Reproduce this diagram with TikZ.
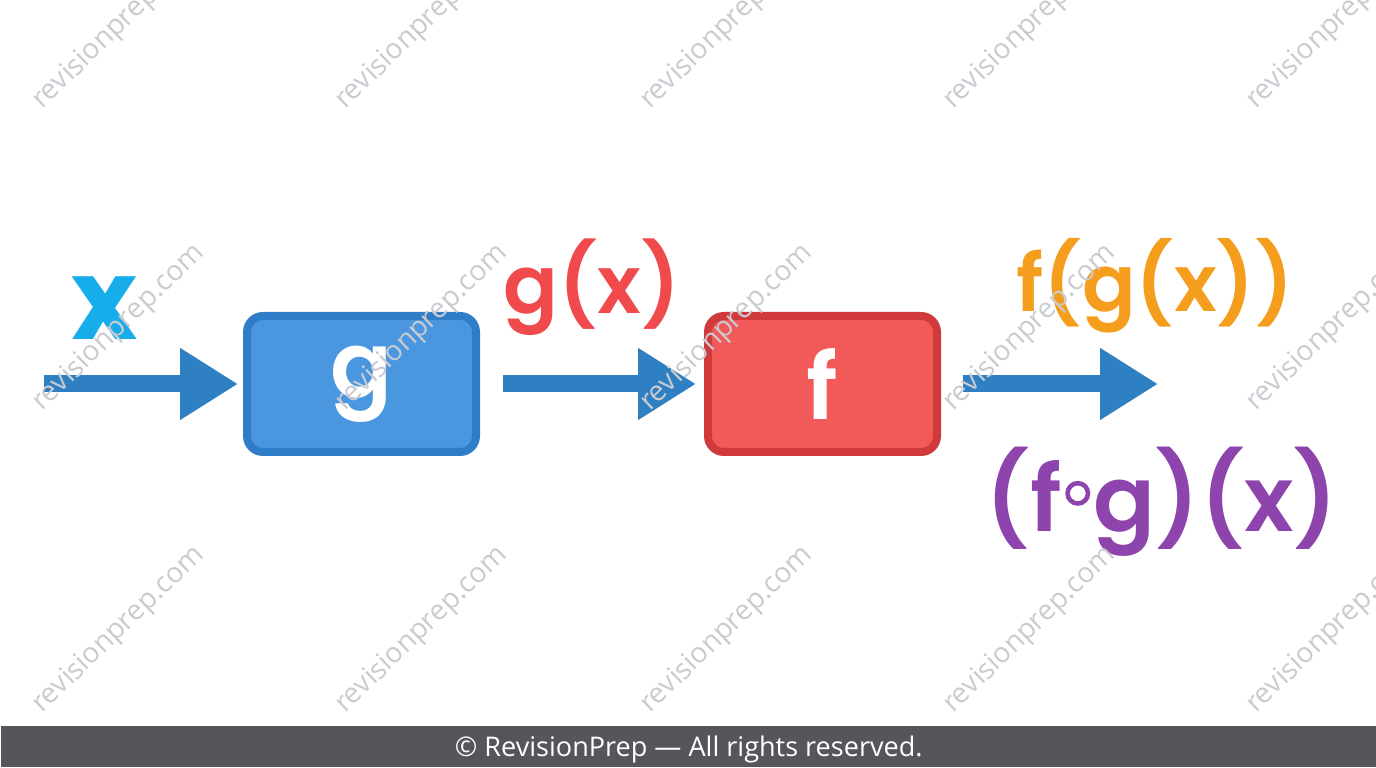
\documentclass[tikz,border=0pt]{standalone}
\usepackage{fontspec}
\usetikzlibrary{arrows.meta}
\newfontfamily\popfont{Poppins}[BoldFont={* SemiBold}]
\newfontfamily\popheavy{Poppins}
\newfontfamily\opensans{Open Sans}
\definecolor{flowblue}{HTML}{2F7FC3}
\definecolor{gedge}{HTML}{2F7DC6}
\definecolor{gfill}{HTML}{4A97E0}
\definecolor{fedge}{HTML}{D13A3C}
\definecolor{ffill}{HTML}{F25A5A}
\definecolor{xcyan}{HTML}{17ADEA}
\definecolor{gxred}{HTML}{F04A4D}
\definecolor{fgxorange}{HTML}{F59D1C}
\definecolor{fogpurple}{HTML}{8E44AD}
\definecolor{wmgray}{HTML}{CACBD1}
\definecolor{footgray}{HTML}{55565B}
\pgfdeclarelayer{edgelayer}
\pgfdeclarelayer{nodelayer}
\pgfsetlayers{edgelayer,nodelayer,main}
\tikzstyle{fnbox}=[rectangle,rounded corners=0.16cm,minimum width=2.29cm,minimum height=1.36cm,line width=0.08cm,text=white,font=\popfont\bfseries\fontsize{26}{26}\selectfont]
\tikzstyle{flow}=[-{Triangle[length=0.58cm,width=0.68cm]},line width=0.17cm,draw=flowblue]
\tikzstyle{formula}=[anchor=base,inner sep=0pt]
\tikzstyle{watermark}=[text=wmgray,rotate=44,font=\opensans\fontsize{8}{8}\selectfont]
\newcommand{\compring}{\hspace{1pt}\tikz[baseline=-11pt]\draw[line width=1.3pt,fogpurple] (0,0) circle (2.9pt);\hspace{1pt}}

\begin{document}
\begin{tikzpicture}
	\useasboundingbox (0,0) rectangle (13.76,7.68);
	\begin{pgfonlayer}{nodelayer}
		\node [style=fnbox, draw=gedge, fill=gfill] (0) at (3.615, 3.84) {g};
		\node [style=fnbox, draw=fedge, fill=ffill] (1) at (8.225, 3.84) {f};
		\coordinate (in) at (0.44, 3.84);
		\coordinate (out) at (11.58, 3.84);
		\node [style=formula, text=xcyan, font={\popheavy\bfseries\fontsize{32}{32}\selectfont}] (2) at (1.05, 4.28) {x};
		\node [style=formula, text=gxred, font={\popfont\bfseries\fontsize{23}{23}\selectfont}] (3) at (5.92, 4.54) {g(x)};
		\node [style=formula, text=fgxorange, font={\popfont\bfseries\fontsize{22.5}{22.5}\selectfont}] (4) at (11.55, 4.56) {f(g(x))};
		\node [style=formula, text=fogpurple, font={\popfont\bfseries\fontsize{26}{26}\selectfont}] (5) at (11.62, 2.36) {(f\compring g)(x)};
	\end{pgfonlayer}
	\begin{pgfonlayer}{edgelayer}
		\draw [style=flow, shorten >=0.05cm] (in) to (0);
		\draw [style=flow, shorten <=0.23cm, shorten >=0.08cm] (0) to (1);
		\draw [style=flow, shorten <=0.22cm] (1) to (out);
	\end{pgfonlayer}
	% watermark grid and footer on top
	\foreach \col [count=\i] in {1.19,4.22,7.27,10.30,13.33} {
		\foreach \row [count=\j] in {7.42,4.40,1.38} {
			\node [style=watermark] (w\i\j) at (\col, \row) {revisionprep.com};
		}
	}
	\node [anchor=south west, fill=footgray, minimum width=13.76cm, minimum height=0.41cm, inner sep=0pt, text height=6.5pt, text depth=0.8pt, text=white, font=\opensans\fontsize{7.7}{7.7}\selectfont] (foot) at (0,0) {© RevisionPrep — All rights reserved.};
\end{tikzpicture}
\end{document}
